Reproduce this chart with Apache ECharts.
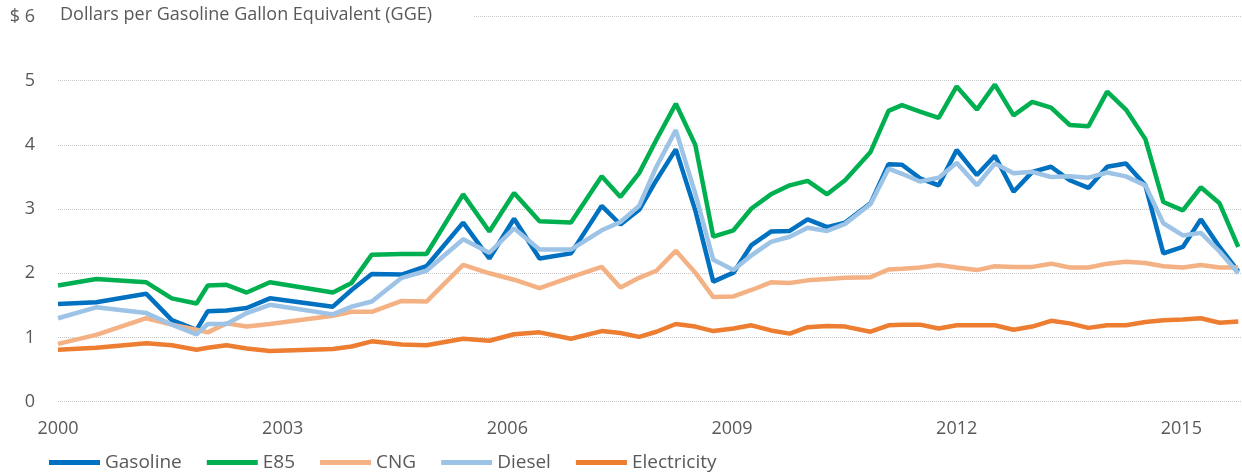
<!DOCTYPE html>
<html>
<head>
<meta charset="utf-8">
<script src="https://cdn.jsdelivr.net/npm/echarts@6/dist/echarts.min.js"></script>
<style>
    html, body { margin: 0; padding: 0; background: #fff; }
    #chart { width: 1242px; height: 474px; }
</style>
</head>
<body>
<div id="chart"></div>
<script>
    // dates of the price reports, in decimal years
    var dates = [
        2000.00, 2000.51, 2001.18, 2001.52, 2001.85, 2002.00, 2002.25, 2002.52, 2002.83, 2003.67,
        2003.92, 2004.19, 2004.59, 2004.92, 2005.41, 2005.76, 2006.09, 2006.43, 2006.85, 2007.26,
        2007.51, 2007.76, 2007.99, 2008.25, 2008.51, 2008.75, 2009.02, 2009.26, 2009.52, 2009.77,
        2010.01, 2010.27, 2010.51, 2010.85, 2011.09, 2011.27, 2011.51, 2011.76, 2012.00, 2012.27,
        2012.51, 2012.76, 2013.01, 2013.26, 2013.51, 2013.76, 2014.01, 2014.26, 2014.52, 2014.76,
        2015.02, 2015.26, 2015.51, 2015.76
    ];
    var gasoline = [
        1.52, 1.55, 1.68, 1.27, 1.12, 1.41, 1.42, 1.46, 1.61, 1.48,
        1.74, 1.99, 1.98, 2.11, 2.79, 2.23, 2.85, 2.23, 2.31, 3.05,
        2.76, 2.99, 3.45, 3.93, 2.98, 1.87, 2.01, 2.44, 2.65, 2.66,
        2.84, 2.72, 2.79, 3.09, 3.70, 3.69, 3.48, 3.37, 3.92, 3.53,
        3.83, 3.27, 3.58, 3.66, 3.45, 3.33, 3.66, 3.71, 3.37, 2.31,
        2.41, 2.84, 2.41, 2.03
    ];
    var e85 = [
        1.81, 1.91, 1.86, 1.61, 1.53, 1.81, 1.82, 1.70, 1.86, 1.70,
        1.85, 2.29, 2.30, 2.30, 3.23, 2.65, 3.25, 2.81, 2.79, 3.51,
        3.19, 3.56, 4.08, 4.64, 4.00, 2.57, 2.67, 3.01, 3.23, 3.37,
        3.44, 3.23, 3.45, 3.89, 4.53, 4.62, 4.52, 4.42, 4.91, 4.55,
        4.94, 4.46, 4.67, 4.58, 4.31, 4.29, 4.83, 4.55, 4.09, 3.11,
        2.98, 3.34, 3.09, 2.41
    ];
    var cng = [
        0.90, 1.04, 1.30, 1.20, 1.12, 1.08, 1.22, 1.17, 1.21, 1.34,
        1.40, 1.40, 1.57, 1.56, 2.13, 2.00, 1.90, 1.77, 1.94, 2.10,
        1.78, 1.93, 2.04, 2.35, 2.01, 1.63, 1.64, 1.74, 1.86, 1.85,
        1.89, 1.91, 1.93, 1.94, 2.06, 2.07, 2.09, 2.13, 2.09, 2.05,
        2.11, 2.10, 2.10, 2.15, 2.09, 2.09, 2.15, 2.18, 2.16, 2.11,
        2.09, 2.13, 2.09, 2.09
    ];
    var diesel = [
        1.30, 1.47, 1.38, 1.20, 1.05, 1.21, 1.21, 1.38, 1.51, 1.36,
        1.48, 1.56, 1.93, 2.04, 2.53, 2.32, 2.70, 2.37, 2.37, 2.67,
        2.80, 3.05, 3.66, 4.23, 3.24, 2.21, 2.05, 2.28, 2.49, 2.57,
        2.71, 2.66, 2.77, 3.08, 3.63, 3.55, 3.43, 3.49, 3.72, 3.37,
        3.71, 3.56, 3.58, 3.50, 3.51, 3.49, 3.57, 3.51, 3.37, 2.78,
        2.59, 2.63, 2.34, 2.00
    ];
    var electricity = [
        0.81, 0.84, 0.91, 0.88, 0.81, 0.84, 0.88, 0.83, 0.79, 0.82,
        0.86, 0.94, 0.89, 0.88, 0.98, 0.95, 1.05, 1.08, 0.98, 1.10,
        1.07, 1.01, 1.09, 1.21, 1.17, 1.10, 1.14, 1.19, 1.11, 1.06,
        1.16, 1.18, 1.17, 1.09, 1.19, 1.20, 1.20, 1.14, 1.19, 1.19,
        1.19, 1.12, 1.17, 1.26, 1.22, 1.15, 1.19, 1.19, 1.24, 1.27,
        1.28, 1.30, 1.23, 1.25
    ];
    var yTicks = [0, 1, 2, 3, 4, 5, 6];
    var xTicks = [2000, 2003, 2006, 2009, 2012, 2015];

    var fontFamily = '"Open Sans", "Noto Sans", sans-serif';
    var textColor = '#595959';

    function pairs(values) {
        return values.map(function (v, i) { return [dates[i], v]; });
    }

    function lineSeries(name, values, color) {
        return {
            name: name,
            type: 'line',
            data: pairs(values),
            symbol: 'none',
            lineStyle: { color: color, width: 4.5 },
            itemStyle: { color: color },
            emphasis: { disabled: true }
        };
    }

    var chart = echarts.init(document.getElementById('chart'));
    chart.setOption({
        animation: false,
        backgroundColor: '#fff',
        title: {
            text: 'Dollars per Gasoline Gallon Equivalent (GGE)',
            left: 56,
            top: 6,
            padding: [0, 42, 0, 4],
            backgroundColor: '#fff',
            textStyle: { fontFamily: fontFamily, fontSize: 18, fontWeight: 'normal', color: textColor }
        },
        legend: {
            left: 44,
            top: 448,
            icon: 'rect',
            itemWidth: 51,
            itemHeight: 5,
            itemGap: 25,
            textStyle: { fontFamily: fontFamily, fontSize: 19, color: textColor },
            data: ['Gasoline', 'E85', 'CNG', 'Diesel', 'Electricity']
        },
        grid: { left: 58, right: 0, top: 16.5, bottom: 72.3, containLabel: false },
        xAxis: {
            type: 'value',
            min: xTicks[0],
            max: 2015.81,
            interval: 3,
            axisLine: { show: false },
            axisTick: { show: false },
            splitLine: { show: false },
            axisLabel: {
                margin: 18,
                fontFamily: fontFamily,
                fontSize: 18,
                color: textColor,
                showMaxLabel: false,
                formatter: function (v) { return xTicks.indexOf(v) >= 0 ? String(v) : ''; }
            }
        },
        yAxis: {
            type: 'value',
            min: yTicks[0],
            max: yTicks[yTicks.length - 1],
            interval: 1,
            axisLine: { show: false },
            axisTick: { show: false },
            splitLine: { lineStyle: { color: '#c8c8c8', type: [1, 1], width: 1 } },
            axisLabel: {
                margin: 23,
                fontFamily: fontFamily,
                fontSize: 18,
                color: textColor,
                formatter: function (v) { return v === 6 ? '$ 6' : String(v); }
            }
        },
        series: [
            lineSeries('Gasoline', gasoline, '#0070C0'),
            lineSeries('E85', e85, '#00B050'),
            lineSeries('CNG', cng, '#F4B183'),
            lineSeries('Diesel', diesel, '#9DC3E6'),
            lineSeries('Electricity', electricity, '#ED7D31')
        ]
    });
</script>
</body>
</html>
